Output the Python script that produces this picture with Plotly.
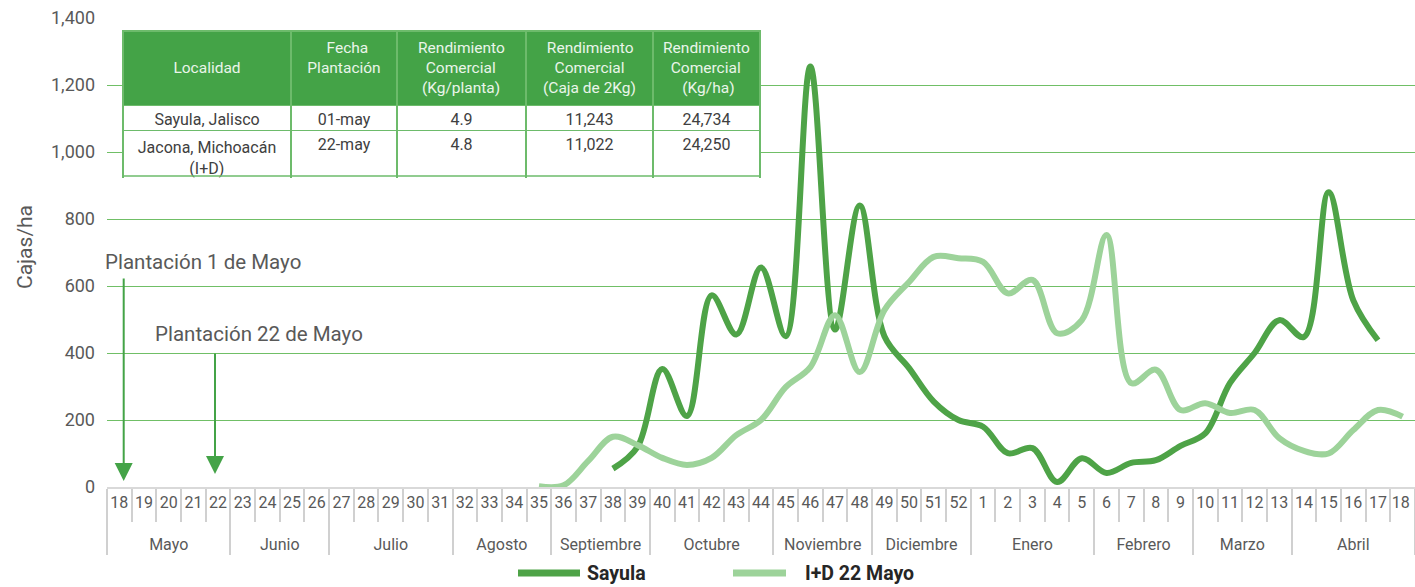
import plotly.graph_objects as go

# ---------------- data ----------------
weeks = [str(w) for w in list(range(18, 53)) + list(range(1, 18))] + ["18 "]
month_names = ["Mayo", "Junio", "Julio", "Agosto", "Septiembre", "Octubre", "Noviembre",
               "Diciembre", "Enero", "Febrero", "Marzo", "Abril"]
month_sizes = [5, 4, 5, 4, 4, 5, 4, 4, 5, 4, 4, 5]
months = ["\u00a0<br>" + m for m, n in zip(month_names, month_sizes) for _ in range(n)]

N = None
sayula = [N] * 20 + [55, 120, 352, 212, 572, 455, 655, 450, 1255, 470, 840,
                     450, 355, 255, 200, 180, 101, 116, 15, 86, 42, 72, 80, 123, 160,
                     310, 400, 498, 448, 880, 557, 438, N]
id22 = [N] * 17 + [2, 5, 78, 150, 125, 87, 66, 87, 155, 200, 298, 358, 513, 343,
                   528, 612, 687, 683, 672, 578, 618, 459, 498, 752, 310, 350, 230,
                   250, 221, 230, 146, 108, 100, 170, 230, 210]

series_names = ["Sayula", "I+D 22 Mayo"]
series_colors = ["#4ea347", "#9dd39a"]

y_ticks = [0, 200, 400, 600, 800, 1000, 1200, 1400]

S = "\u00a0"
table_header = [
    S + "<br>Localidad",
    S * 5 + "Fecha<br>Plantación",
    "Rendimiento<br>" + S * 2 + "Comercial<br>" + S + "(Kg/planta)",
    S + "Rendimiento<br>" + S * 3 + "Comercial<br>(Caja de 2Kg)",
    "Rendimiento<br>" + S * 2 + "Comercial<br>" + S * 5 + "(Kg/ha)",
]
t_localidad = ["Sayula, Jalisco", "Jacona, Michoacán<br>" + S * 13 + "(I+D)"]
t_fecha = ["01-may", "22-may"]
t_kg_planta = ["4.9", "4.8"]
t_cajas = ["11,243", "11,022"]
t_kg_ha = ["24,734", "24,250"]

annotations_text = ["Plantación 1 de Mayo", "Plantación 22 de Mayo"]

# ---------------- geometry helpers (pixels -> paper) ----------------
L, R, T, B = 107, 0, 18, 100
W, H = 1415, 587
PW, PH = W - L - R, H - T - B


def px(x):
    return (x - L) / PW


def py(y):
    return (H - B - y) / PH


FONT = "Roboto, 'Open Sans', sans-serif"
GRAY = "#595959"

fig = go.Figure()
for name, vals, col in zip(series_names, [sayula, id22], series_colors):
    fig.add_trace(go.Scatter(
        x=[months, weeks], y=vals, mode="lines", name=name,
        line=dict(color=col, width=6, shape="spline", smoothing=1.0),
        connectgaps=False, showlegend=False,
    ))

fig.add_trace(go.Table(
    domain=dict(x=[px(123), px(760)], y=[py(179), py(31)]),
    columnwidth=[168, 106, 129, 127, 107],
    header=dict(values=table_header, fill_color="#44a347", height=72,
                line=dict(color="#6dbb6b", width=1.5), align="center",
                font=dict(family=FONT, size=15.5, color="#eaf5ea")),
    cells=dict(values=[t_localidad, t_fecha, t_kg_planta, t_cajas, t_kg_ha],
               fill_color="white", height=25, align="center",
               line=dict(color="#6dbb6b", width=1.5),
               font=dict(family=FONT, size=16, color="#404040")),
))

shapes = [dict(type="line", xref="paper", yref="paper", x0=px(123), x1=px(760),
               y0=py(176), y1=py(176), line=dict(color="#6dbb6b", width=1.5))]
anns = []
# arrows
arrow_specs = [(123.7, 277, 481, 103, 262), (215, 352, 474, 153, 334)]
for (ax_, y0, y1, tx, ty), txt in zip(arrow_specs, annotations_text):
    anns.append(dict(xref="paper", yref="paper", x=px(ax_), y=py(y1), ax=0, ay=-(y1 - y0),
                     text="", showarrow=True, arrowhead=2, arrowsize=1.8, arrowwidth=2,
                     arrowcolor="#44a347"))
    anns.append(dict(xref="paper", yref="paper", x=px(tx), y=py(ty), xanchor="left",
                     yanchor="middle", text=txt, showarrow=False,
                     font=dict(family=FONT, size=20.5, color=GRAY)))

# custom legend
leg_specs = [(518, 580, 585), (733, 786, 803)]
for (x0, x1, tx), name, col in zip(leg_specs, series_names, series_colors):
    shapes.append(dict(type="line", xref="paper", yref="paper", x0=px(x0), x1=px(x1),
                       y0=py(573), y1=py(573), line=dict(color=col, width=7)))
    anns.append(dict(xref="paper", yref="paper", x=px(tx), y=py(573), xanchor="left",
                     yanchor="middle", text="<b>" + name + "</b>", showarrow=False,
                     font=dict(family=FONT, size=19.5, color="#262626")))

anns.append(dict(xref="paper", yref="paper", x=px(25), y=py(247), text="Cajas/ha",
                 textangle=-90, showarrow=False, xanchor="center", yanchor="middle",
                 font=dict(family=FONT, size=21, color=GRAY)))

fig.update_layout(
    width=W, height=H, margin=dict(l=L, r=R, t=T, b=B, autoexpand=False),
    paper_bgcolor="white", plot_bgcolor="white",
    font=dict(family=FONT, color=GRAY),
    shapes=shapes, annotations=anns, showlegend=False,
    xaxis=dict(type="multicategory", range=[-0.5, len(weeks) - 0.5],
               showgrid=False, zeroline=False, automargin=False,
               showline=True, linecolor="#d9d9d9", linewidth=2,
               ticks="outside", ticklen=33, tickcolor="#d0d0d0", tickwidth=1.5,
               tickson="boundaries", tickangle=0,
               showdividers=True, dividercolor="#d0d0d0", dividerwidth=1.5,
               tickfont=dict(family=FONT, size=16, color=GRAY)),
    yaxis=dict(range=[0, 1400], tickvals=y_ticks, tickformat=",", showgrid=True,
               automargin=False,
               gridcolor="#70bf66", gridwidth=1, zeroline=False, showline=False,
               ticks="", ticklabelstandoff=11,
               tickfont=dict(family=FONT, size=18, color=GRAY)),
)

fig.write_html("out.html", config={"displayModeBar": False},
               post_script="document.body.style.margin='0';")
